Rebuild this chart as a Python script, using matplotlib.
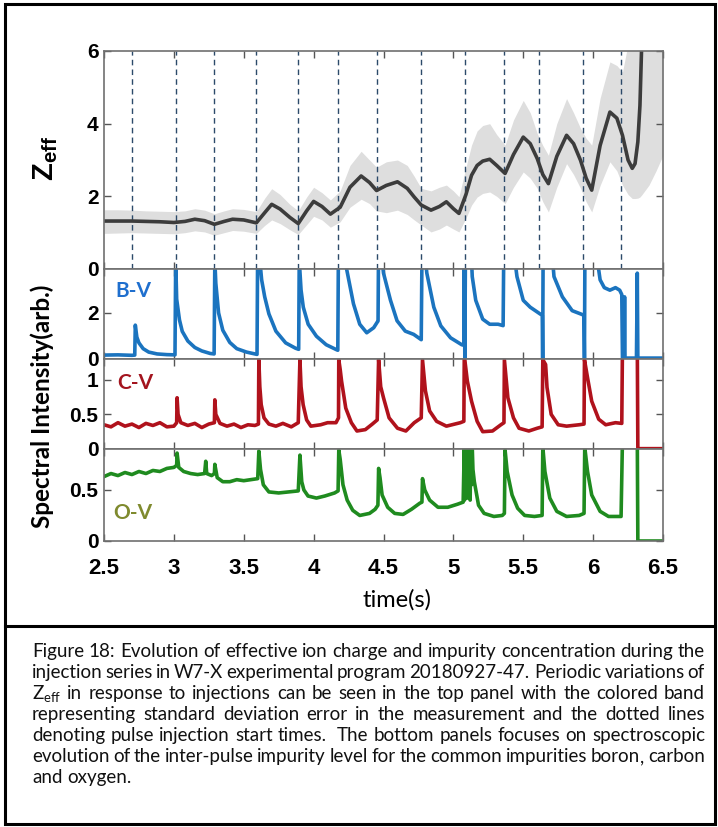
import numpy as np
import matplotlib
matplotlib.use('Agg')
import matplotlib.pyplot as plt
from matplotlib.patches import Rectangle
from matplotlib.lines import Line2D

# Zeff from the bolometer/spectroscopy reconstruction (time in s)
zeff_time = [2.50, 2.60, 2.70, 2.80, 2.90, 3.00, 3.08, 3.15, 3.22, 3.29, 3.36, 3.42, 3.50, 3.59,
             3.65, 3.70, 3.76, 3.83, 3.89, 3.95, 4.00, 4.06, 4.12, 4.19, 4.26, 4.34, 4.40, 4.45,
             4.52, 4.60, 4.67, 4.72, 4.77, 4.84, 4.90, 4.95, 5.00, 5.04, 5.09, 5.13, 5.17, 5.21,
             5.26, 5.31, 5.37, 5.43, 5.50, 5.55, 5.60, 5.64, 5.68, 5.74, 5.81, 5.86, 5.91, 5.95,
             5.99, 6.05, 6.12, 6.17, 6.21, 6.25, 6.28, 6.30, 6.32, 6.335, 6.35, 6.40, 6.45, 6.50]
zeff_mean = [1.32, 1.32, 1.32, 1.31, 1.30, 1.28, 1.31, 1.37, 1.33, 1.23, 1.31, 1.37, 1.35, 1.27,
             1.55, 1.78, 1.65, 1.42, 1.25, 1.60, 1.86, 1.72, 1.51, 1.70, 2.25, 2.56, 2.38, 2.16,
             2.30, 2.40, 2.22, 1.98, 1.76, 1.62, 1.72, 1.85, 1.66, 1.53, 2.05, 2.58, 2.85, 2.97,
             3.02, 2.85, 2.63, 3.15, 3.63, 3.45, 3.04, 2.60, 2.35, 3.10, 3.68, 3.45, 2.99, 2.50,
             2.17, 3.40, 4.32, 4.15, 3.68, 3.00, 2.77, 2.90, 3.50, 4.50, 6.50, 9.0, 9.0, 9.0]
zeff_low = [0.98, 0.99, 1.00, 0.99, 0.98, 0.97, 1.00, 1.05, 1.02, 0.93, 1.00, 1.06, 1.04, 0.98,
            1.20, 1.35, 1.25, 1.08, 0.95, 1.22, 1.45, 1.35, 1.15, 1.30, 1.70, 1.92, 1.80, 1.60,
            1.55, 1.62, 1.50, 1.35, 1.21, 1.02, 1.10, 1.21, 1.10, 1.02, 1.40, 1.76, 1.98, 2.08,
            2.12, 2.00, 1.80, 2.25, 2.67, 2.50, 2.22, 1.85, 1.57, 2.25, 2.90, 2.60, 2.22, 1.85,
            1.57, 2.30, 2.95, 2.70, 2.31, 2.05, 1.94, 1.94, 1.95, 1.98, 2.05, 2.31, 2.70, 3.13]
zeff_high = [1.63, 1.63, 1.62, 1.60, 1.59, 1.58, 1.60, 1.66, 1.62, 1.52, 1.60, 1.66, 1.64, 1.58,
             1.95, 2.21, 2.05, 1.78, 1.60, 1.98, 2.25, 2.10, 1.90, 2.15, 2.85, 3.24, 3.00, 2.80,
             2.95, 3.00, 2.85, 2.55, 2.22, 2.15, 2.25, 2.31, 2.15, 1.99, 2.80, 3.41, 3.80, 3.95,
             4.00, 3.70, 3.41, 4.10, 4.64, 4.30, 3.73, 3.40, 3.13, 4.00, 4.69, 4.30, 3.87, 3.60,
             3.41, 4.70, 5.70, 5.60, 5.42, 6.20, 6.80, 7.0, 7.0, 7.0, 7.0, 7.0, 7.0, 7.0]

# pulse injection start times (s)
injection_times = [2.70, 3.015, 3.29, 3.59, 3.89, 4.175, 4.455, 4.77, 5.08, 5.36, 5.61, 5.93, 6.20]

# spectral line intensities, (time, intensity) pairs
bv_trace = [(2.50, 0.17), (2.60, 0.18), (2.70, 0.16), (2.72, 0.17), (2.724, 1.47), (2.735, 0.95),
            (2.75, 0.70), (2.78, 0.45), (2.82, 0.30), (2.88, 0.22), (2.95, 0.19), (3.008, 0.18),
            (3.013, 4.3), (3.02, 2.60), (3.04, 1.70), (3.06, 1.20), (3.10, 0.78), (3.15, 0.50),
            (3.20, 0.35), (3.26, 0.24), (3.288, 0.22),
            (3.293, 4.3), (3.30, 3.30), (3.32, 2.00), (3.35, 1.25), (3.40, 0.72), (3.45, 0.45),
            (3.52, 0.30), (3.595, 0.20),
            (3.599, 4.3), (3.615, 4.3), (3.628, 3.44), (3.65, 2.70), (3.68, 1.96), (3.73, 1.21),
            (3.80, 0.70), (3.87, 0.47), (3.893, 0.42),
            (3.897, 4.3), (3.91, 3.00), (3.926, 2.25), (3.961, 1.51), (4.02, 0.99), (4.09, 0.62),
            (4.165, 0.40), (4.173, 0.38),
            (4.177, 4.3), (4.225, 4.3), (4.237, 3.88), (4.285, 2.40), (4.33, 1.51), (4.38, 1.14),
            (4.43, 1.36), (4.455, 1.60), (4.461, 1.65),
            (4.464, 4.3), (4.49, 4.3), (4.50, 3.73), (4.55, 2.55), (4.597, 1.66), (4.656, 1.21),
            (4.716, 1.07), (4.77, 0.84),
            (4.775, 4.3), (4.80, 4.3), (4.81, 3.73), (4.86, 2.25), (4.91, 1.44), (4.98, 0.92),
            (5.06, 0.62), (5.075, 0.60),
            (5.078, 4.3), (5.082, 0.0), (5.086, 4.3), (5.13, 4.3), (5.135, 3.58), (5.16, 2.55),
            (5.21, 1.73), (5.26, 1.51), (5.32, 1.51), (5.356, 1.45),
            (5.36, 4.3), (5.44, 4.3), (5.455, 3.58), (5.50, 2.55), (5.55, 2.25), (5.62, 1.96),
            (5.636, 1.90),
            (5.639, 0.0), (5.642, 4.3), (5.71, 4.3), (5.72, 3.58), (5.78, 2.70), (5.85, 2.10),
            (5.91, 1.96), (5.934, 1.90),
            (5.938, 0.0), (5.941, 4.3), (6.03, 4.3), (6.05, 3.44), (6.08, 3.10), (6.12, 2.99),
            (6.16, 3.10), (6.19, 2.99), (6.205, 2.80),
            (6.21, 0.04), (6.222, 0.04), (6.225, 2.70), (6.228, 0.04), (6.31, 0.04), (6.316, 3.73),
            (6.32, 0.04), (6.50, 0.04)]

cv_trace = [(2.50, 0.35), (2.55, 0.32), (2.60, 0.38), (2.65, 0.33), (2.70, 0.36), (2.75, 0.31),
            (2.80, 0.37), (2.85, 0.34), (2.90, 0.38), (2.95, 0.32), (3.00, 0.33), (3.02, 0.38),
            (3.023, 0.74), (3.03, 0.50), (3.05, 0.38), (3.10, 0.34), (3.15, 0.37), (3.20, 0.31),
            (3.25, 0.36), (3.29, 0.38),
            (3.293, 0.71), (3.30, 0.50), (3.33, 0.37), (3.38, 0.33), (3.43, 0.36), (3.48, 0.31),
            (3.53, 0.35), (3.58, 0.34), (3.605, 0.36),
            (3.608, 1.29), (3.615, 0.90), (3.625, 0.64), (3.645, 0.45), (3.68, 0.36), (3.73, 0.33),
            (3.78, 0.37), (3.84, 0.32), (3.89, 0.38),
            (3.902, 1.29), (3.91, 0.90), (3.925, 0.64), (3.95, 0.42), (3.98, 0.33), (4.05, 0.35),
            (4.10, 0.38), (4.16, 0.38), (4.178, 0.45),
            (4.18, 1.29), (4.19, 1.15), (4.20, 0.98), (4.23, 0.59), (4.27, 0.38), (4.31, 0.26),
            (4.37, 0.28), (4.42, 0.36), (4.455, 0.42),
            (4.465, 1.29), (4.48, 0.90), (4.50, 0.74), (4.54, 0.45), (4.60, 0.30), (4.66, 0.26),
            (4.72, 0.38), (4.77, 0.45),
            (4.779, 1.29), (4.80, 0.84), (4.83, 0.55), (4.88, 0.40), (4.95, 0.33), (5.05, 0.38),
            (5.075, 0.40),
            (5.078, 1.35), (5.10, 0.98), (5.13, 0.69), (5.17, 0.40), (5.21, 0.25), (5.28, 0.26),
            (5.34, 0.35), (5.362, 0.38),
            (5.365, 1.29), (5.39, 0.74), (5.43, 0.45), (5.47, 0.30), (5.54, 0.26), (5.60, 0.30),
            (5.635, 0.32),
            (5.64, 1.29), (5.66, 1.22), (5.67, 0.89), (5.70, 0.50), (5.75, 0.35), (5.81, 0.33),
            (5.90, 0.35), (5.935, 0.36),
            (5.938, 1.29), (5.96, 1.03), (5.99, 0.69), (6.04, 0.43), (6.09, 0.35), (6.16, 0.38),
            (6.205, 0.37),
            (6.21, 1.50), (6.316, 1.50), (6.32, 0.005), (6.50, 0.005)]

ov_trace = [(2.50, 0.63), (2.55, 0.66), (2.60, 0.64), (2.65, 0.67), (2.70, 0.65), (2.75, 0.68),
            (2.80, 0.66), (2.85, 0.69), (2.90, 0.68), (2.95, 0.71), (3.00, 0.72), (3.02, 0.74),
            (3.023, 0.86), (3.035, 0.72), (3.07, 0.68), (3.12, 0.66), (3.17, 0.65), (3.22, 0.66),
            (3.228, 0.78), (3.235, 0.66), (3.27, 0.64), (3.29, 0.66),
            (3.293, 0.75), (3.31, 0.62), (3.35, 0.58), (3.40, 0.58), (3.45, 0.60), (3.50, 0.59),
            (3.55, 0.60), (3.60, 0.61),
            (3.608, 0.88), (3.62, 0.70), (3.64, 0.55), (3.68, 0.48), (3.75, 0.47), (3.82, 0.48),
            (3.89, 0.49),
            (3.902, 0.84), (3.915, 0.58), (3.93, 0.50), (3.96, 0.44), (4.02, 0.42), (4.08, 0.44),
            (4.15, 0.47), (4.175, 0.49),
            (4.18, 0.89), (4.19, 0.80), (4.21, 0.55), (4.24, 0.40), (4.28, 0.30), (4.33, 0.25),
            (4.40, 0.27), (4.44, 0.31), (4.46, 0.35),
            (4.465, 0.71), (4.475, 0.62), (4.49, 0.45), (4.53, 0.33), (4.58, 0.27), (4.64, 0.26),
            (4.70, 0.31), (4.76, 0.37), (4.775, 0.38),
            (4.779, 0.61), (4.795, 0.50), (4.83, 0.40), (4.89, 0.33), (4.96, 0.33), (5.03, 0.36),
            (5.07, 0.38),
            (5.078, 0.92), (5.08, 0.40), (5.085, 0.92), (5.09, 0.45), (5.095, 0.92), (5.10, 0.42),
            (5.105, 0.92), (5.11, 0.60), (5.115, 0.92), (5.12, 0.40), (5.125, 0.92), (5.13, 0.55),
            (5.135, 0.92), (5.14, 0.70), (5.15, 0.58), (5.18, 0.35), (5.22, 0.27), (5.29, 0.24),
            (5.35, 0.25), (5.365, 0.27),
            (5.37, 0.89), (5.385, 0.68), (5.42, 0.45), (5.46, 0.32), (5.51, 0.25), (5.58, 0.24),
            (5.635, 0.25),
            (5.64, 0.92), (5.655, 0.68), (5.69, 0.42), (5.74, 0.29), (5.81, 0.24), (5.90, 0.25),
            (5.935, 0.27),
            (5.94, 0.92), (5.96, 0.68), (5.99, 0.45), (6.05, 0.29), (6.11, 0.24), (6.20, 0.24),
            (6.21, 1.00), (6.316, 1.00), (6.32, 0.0), (6.50, 0.0)]

x_ticks = [2.5, 3, 3.5, 4, 4.5, 5, 5.5, 6, 6.5]
x_tick_labels = ['2.5', '3', '3.5', '4', '4.5', '5', '5.5', '6', '6.5']

caption_lines = [
    'Figure 18: Evolution of effective ion charge and impurity concentration during the',
    'injection series in W7-X experimental program 20180927-47.  Periodic variations of',
    r'$\mathrm{Z_{eff}}$ in response to injections can be seen in the top panel with the colored band',
    'representing standard deviation error in the measurement and the dotted lines',
    'denoting pulse injection start times.  The bottom panels focuses on spectroscopic',
    'evolution of the inter-pulse impurity level for the common impurities boron, carbon',
    'and oxygen.',
]

W, H = 718, 827
TICK_FONT = 'Liberation Sans'


def px_to_fig(x, y):
    return x / W, 1 - y / H


def style_axis(ax, ylim, yticks, yticklabels):
    ax.set_xlim(2.5, 6.5)
    ax.set_ylim(*ylim)
    ax.set_xticks(x_ticks)
    ax.set_yticks(yticks)
    ax.set_yticklabels(yticklabels)
    ax.tick_params(direction='in', top=True, right=True, length=5, width=1,
                   color='#555555', labelsize=15, pad=4)
    ax.tick_params(axis='x', labelbottom=False)
    for lab in ax.get_yticklabels():
        lab.set_fontweight('bold')
        lab.set_family(TICK_FONT)
    for sp in ax.spines.values():
        sp.set_color('#707070')
        sp.set_linewidth(1.2)


def add_axes_px(fig, top, bottom, left=104, right=663):
    x0, y0 = px_to_fig(left, bottom)
    return fig.add_axes([x0, y0, (right - left) / W, (bottom - top) / H])


def draw_trace(ax, trace, color):
    t, v = np.array(trace).T
    ax.plot(t, v, color=color, lw=2.6, solid_joinstyle='round')


def word_parts(word):
    # trailing commas are set as their own glyph so the word keeps the line's baseline
    if len(word) > 1 and word.endswith(','):
        return [word[:-1], ',']
    return [word]


def draw_caption(fig, lines, x0, x1, baselines, family='Lato'):
    renderer = fig.canvas.get_renderer()
    # pick the size at which the first (fully set) line fills the column
    probe = fig.text(0, 0, lines[0], fontsize=12, family=family)
    size = 12 * (x1 - x0) / probe.get_window_extent(renderer).width
    probe.remove()

    for i, (line, yb) in enumerate(zip(lines, baselines)):
        words = line.split(' ')
        _, fy = px_to_fig(0, yb)
        groups = []
        for w in words:
            parts = []
            for p in word_parts(w):
                t = fig.text(0, fy, p, fontsize=size, family=family,
                             va='baseline', ha='left', color='#111111')
                width = t.get_window_extent(renderer).width if p else 0.0
                parts.append((t, width))
            groups.append(parts)
        total = sum(wd for parts in groups for _, wd in parts)
        if i < len(lines) - 1 and len(words) > 1:
            gap = (x1 - x0 - total) / (len(words) - 1)
        else:
            gap = size * 100 / 72 * 0.23
        x = x0
        for parts in groups:
            for t, wd in parts:
                t.set_x(x / W)
                x += wd
            x += gap


def main():
    plt.rcParams['mathtext.fontset'] = 'custom'
    plt.rcParams['mathtext.rm'] = 'Lato'
    plt.rcParams['mathtext.bf'] = 'Liberation Sans:bold'

    fig = plt.figure(figsize=(W / 100, H / 100), dpi=100)

    # top panel: Zeff with error band and injection markers
    ax0 = add_axes_px(fig, 51, 269)
    ax0.fill_between(zeff_time, zeff_low, zeff_high, color='#dedede', lw=0)
    for t in injection_times:
        ax0.axvline(t, color='#2c4a6a', lw=1.0, ls=(0, (4, 3)))
    ax0.plot(zeff_time, zeff_mean, color='#3c3c3c', lw=2.6)
    style_axis(ax0, (0, 6), [0, 2, 4, 6], ['0', '2', '4', '6'])

    ax1 = add_axes_px(fig, 269, 359)
    draw_trace(ax1, bv_trace, '#1b74bf')
    style_axis(ax1, (0, 3.91), [0, 2], ['0', '2'])

    ax2 = add_axes_px(fig, 359, 449)
    draw_trace(ax2, cv_trace, '#b0121c')
    style_axis(ax2, (0, 1.30), [0, 0.5, 1], ['0', '0.5', '1'])

    ax3 = add_axes_px(fig, 449, 541)
    draw_trace(ax3, ov_trace, '#1f8b1f')
    style_axis(ax3, (0, 0.90), [0, 0.5], ['0', '0.5'])
    ax3.tick_params(axis='x', labelbottom=True, labelsize=16, pad=12)
    ax3.set_xticklabels(x_tick_labels)
    for lab in ax3.get_xticklabels():
        lab.set_fontweight('bold')
        lab.set_family(TICK_FONT)

    # panel tags
    for txt, col, (px, py) in [('B-V', '#1f6fce', (115, 291)),
                               ('C-V', '#a3141e', (117, 383)),
                               ('O-V', '#7f8a2e', (113, 513))]:
        fx, fy = px_to_fig(px, py)
        fig.text(fx, fy, txt, color=col, fontsize=15, fontweight='bold',
                 family='Lato', ha='left', va='center')

    # axis labels
    fx, fy = px_to_fig(46, 158)
    fig.text(fx, fy, r'$\mathbf{Z_{eff}}$', fontsize=21, rotation=90,
             ha='center', va='center')
    fx, fy = px_to_fig(42, 406)
    fig.text(fx, fy, 'Spectral Intensity(arb.)', fontsize=17.5, fontweight='bold',
             family='Lato', rotation=90, ha='center', va='center')
    fx, fy = px_to_fig(397, 600)
    fig.text(fx, fy, 'time(s)', fontsize=17, family='Lato', ha='center', va='center')

    # frame around the figure and caption
    fx, fy = px_to_fig(5, 824)
    fig.add_artist(Rectangle((fx, fy), 710 / W, 820 / H, transform=fig.transFigure,
                             fill=False, ec='black', lw=2.2))
    x_a, y_sep = px_to_fig(5, 626)
    x_b, _ = px_to_fig(715, 626)
    fig.add_artist(Line2D([x_a, x_b], [y_sep, y_sep], transform=fig.transFigure,
                          color='black', lw=2.2))

    draw_caption(fig, caption_lines, 32, 705,
                 [657, 678, 699, 720, 741, 762, 783])

    fig.savefig('out.png', dpi=100)
    plt.close(fig)


if __name__ == '__main__':
    main()
